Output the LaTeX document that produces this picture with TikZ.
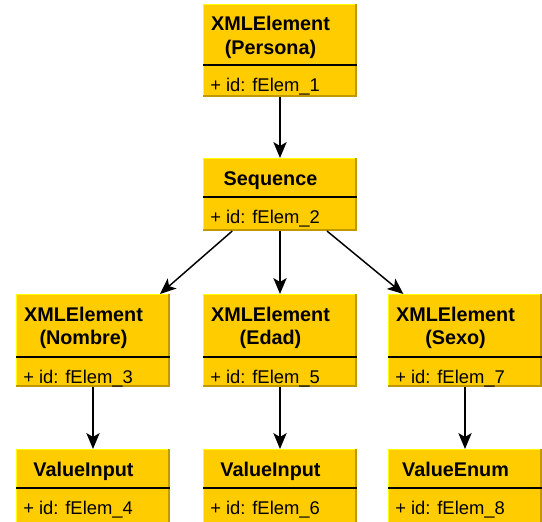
\documentclass[tikz,border=0pt]{standalone}
\usepackage{fontspec}
\setmainfont{Liberation Sans}
\usetikzlibrary{arrows.meta,calc}
\definecolor{boxfill}{HTML}{FFCC00}
\definecolor{boxhi}{HTML}{FFFF00}
\definecolor{boxlo}{HTML}{C09800}
\tikzset{
  titletext/.style={font=\fontsize{14.85}{17}\selectfont\bfseries, anchor=base, inner sep=0pt},
  attrtext/.style={font=\fontsize{13.8}{16}\selectfont, anchor=base west, inner sep=0pt},
  conn/.style={line width=1.1pt, -{Stealth[length=12pt,width=10pt,inset=3pt]}},
  sepline/.style={line width=1pt, black},
  hiedge/.style={line width=1.2pt, boxhi},
  loedge/.style={line width=1.6pt, boxlo},
  boxshape/.style={inner sep=0pt, outer sep=0pt, draw=none, minimum width=115.5pt},
}
% #1 name, #2 left, #3 top, #4 separator, #5 bottom, #6 title 1, #7 title 2, #8 attribute
\newcommand\umlbox[8]{%
  \fill[boxfill] (#2,#3) rectangle ({#2+154},#5);
  \draw[hiedge] ({#2+0.6},#5) -- ({#2+0.6},{#3+0.6}) -- ({#2+154},{#3+0.6});
  \draw[loedge] ({#2+153},#3) -- ({#2+153},{#5-1}) -- (#2,{#5-1});
  \draw[sepline] (#2,#4) -- ({#2+154},#4);
  \node[titletext] at ({#2+67.5},{#3+27}) {#6};
  \node[titletext] at ({#2+67.5},{#3+50}) {#7};
  \node[attrtext] at ({#2+7},{#4+26}) {#8};
  \node[boxshape, minimum height={(#5-#3)*0.75pt}] (#1) at ({#2+77},{(#3+#5)/2}) {};
}
\begin{document}
\begin{tikzpicture}[x=0.75pt,y=-0.75pt]
  \useasboundingbox[fill=white] (0,0) rectangle (542,521);
  \umlbox{persona}{203}{4}{65}{97}{XMLElement}{(Persona)}{+ id: fElem\_1}
  \umlbox{seq}{203}{158}{197}{231}{Sequence}{}{+ id: fElem\_2}
  \umlbox{nombre}{16}{294}{357}{387}{XMLElement}{(Nombre)}{+ id: fElem\_3}
  \umlbox{edad}{203}{294}{357}{387}{XMLElement}{(Edad)}{+ id: fElem\_5}
  \umlbox{sexo}{388}{294}{357}{387}{XMLElement}{(Sexo)}{+ id: fElem\_7}
  \umlbox{vin}{16}{449}{488}{530}{ValueInput}{}{+ id: fElem\_4}
  \umlbox{ved}{203}{449}{488}{530}{ValueInput}{}{+ id: fElem\_6}
  \umlbox{vse}{388}{449}{488}{530}{ValueEnum}{}{+ id: fElem\_8}
  \draw[conn] (persona) -- (seq);
  \draw[conn] ($(seq.south west)!0.19!(seq.south east)$) -- ($(nombre.north west)!0.935!(nombre.north east)$);
  \draw[conn] (seq) -- (edad);
  \draw[conn] ($(seq.south west)!0.805!(seq.south east)$) -- ($(sexo.north west)!0.1!(sexo.north east)$);
  \draw[conn] (nombre) -- (vin);
  \draw[conn] (edad) -- (ved);
  \draw[conn] (sexo) -- (vse);
\end{tikzpicture}
\end{document}
